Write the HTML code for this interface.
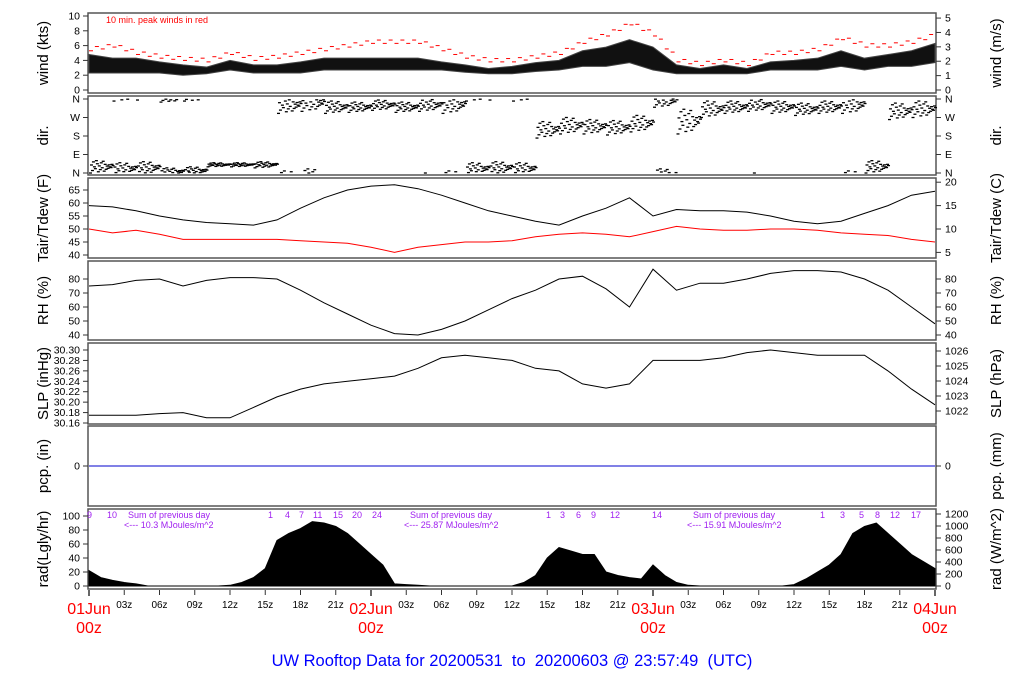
<!DOCTYPE html>
<html><head><meta charset="utf-8"><style>
body{margin:0;background:#fff;}
svg{display:block;font-family:"Liberation Sans",sans-serif;}
</style></head><body>
<svg id="c" width="1024" height="700" viewBox="0 0 1024 700"></svg>
<script>
// ---------- data (2-hourly, h = 0..72) ----------
const hours2 = [0,2,4,6,8,10,12,14,16,18,20,22,24,26,28,30,32,34,36,38,40,42,44,46,48,50,52,54,56,58,60,62,64,66,68,70,72];
const windLo = [2.3,2.3,2.3,2.3,2,2.2,2.7,2.3,2.3,2.3,2.7,2.7,2.7,2.7,2.7,2.7,2.4,2.2,2.2,2.5,2.7,3.2,3.2,3.7,2.7,2.2,2.2,2.2,2.2,2.7,2.7,2.7,3.2,2.7,3.2,3.2,3.7];
const windHi = [4.8,4.3,4.3,3.8,3.4,3.1,4,3.4,3.4,3.8,4.3,4.3,4.3,4.3,4.3,3.8,3.4,2.9,3.2,3.7,4,5.3,5.8,6.8,5.8,3.4,2.9,3.4,2.9,3.8,4,4.3,5.3,4.3,4.8,5.3,6.3];
const windPeak = [5.5,6,5,4.5,4.2,4,5,4.2,4.5,5,5.5,6,6.5,6.5,6.5,5.5,4.5,4,4,4.5,5,6.5,7.5,9,7.5,4,3.5,4,3.5,5,5,5.5,7,6,6,6.5,7.5];
const dirDeg = [30,20,25,5,10,40,40,40,330,340,320,320,330,320,330,330,20,25,20,210,230,225,220,240,350,250,310,320,330,320,310,320,330,30,300,310,300];
const dirSpread = [30,30,30,20,20,10,10,15,40,40,30,25,25,25,30,40,30,30,30,40,40,35,35,40,30,60,40,30,30,30,30,30,40,30,40,40,40];
const tair = [59,58.5,57,55,53.5,52.5,52,51.5,53.5,58,62,65,66.5,67,65.5,63,60,57,55,53,51.5,55,58,62,55,57.5,57,57,56.5,55,53,52,53,56,59,63,64.5];
const tdew = [50,48.5,49.5,48,46,46,46,46,46,45.5,45,44.5,43,41,43,44,45,45,45.5,47,48,48.5,48,47,49,51,50,49.5,49.5,50,50,49.5,48.5,48,47.5,46,45];
const rh = [75,76,79,80,75,79,81,81,80,72,63,55,47,41,40,44,50,58,66,72,80,82,73,60,87,72,77,77,80,84,86,86,85,80,72,60,48];
const slp = [30.175,30.175,30.175,30.178,30.18,30.17,30.17,30.19,30.21,30.225,30.235,30.24,30.245,30.25,30.265,30.285,30.29,30.285,30.28,30.265,30.26,30.235,30.227,30.235,30.28,30.28,30.28,30.285,30.295,30.30,30.295,30.29,30.29,30.29,30.26,30.225,30.195];
const pcp = [0,0,0,0,0,0,0,0,0,0,0,0,0,0,0,0,0,0,0,0,0,0,0,0,0,0,0,0,0,0,0,0,0,0,0,0,0];
// hourly radiation h = 0..72 (Lgly/hr)
const rad = [22,12,8,5,3,0,0,0,0,0,0,0,1,5,12,25,65,75,82,92,90,85,75,60,45,30,3,2,1,0,0,0,0,0,0,0,0,5,15,40,55,50,45,45,20,15,12,10,30,15,5,1,0,0,0,0,0,0,0,0,2,10,20,30,45,75,85,90,75,60,45,35,25];
const hourTicks = ["03z","06z","09z","12z","15z","18z","21z"];
const dayLabels = ["01Jun","02Jun","03Jun","04Jun"];

// ---------- drawing ----------
const svg=document.getElementById('c');
const NS='http://www.w3.org/2000/svg';
const X0=89,X1=935,HMAX=72;
const xs=h=>X0+(X1-X0)*h/HMAX;
function mk(t,a,p){const e=document.createElementNS(NS,t);for(const k in a)e.setAttribute(k,a[k]);(p||svg).appendChild(e);return e;}
function txt(s,x,y,a,p){const e=mk('text',Object.assign({x:x,y:y},a),p);e.textContent=s;return e;}
function lin(v0,y0,v1,y1){return v=>y0+(v-v0)*(y1-y0)/(v1-v0);}

const panels=[
 {n:'wind',top:13,bot:93,l:'wind (kts)',r:'wind (m/s)'},
 {n:'dir',top:96,bot:175,l:'dir.',r:'dir.'},
 {n:'temp',top:178,bot:258,l:'Tair/Tdew (F)',r:'Tair/Tdew (C)'},
 {n:'rh',top:261,bot:340,l:'RH (%)',r:'RH (%)'},
 {n:'slp',top:343,bot:424,l:'SLP (inHg)',r:'SLP (hPa)'},
 {n:'pcp',top:426,bot:506,l:'pcp. (in)',r:'pcp. (mm)'},
 {n:'rad',top:509,bot:589,l:'rad(Lgly/hr)',r:'rad (W/m^2)'}
];
panels.forEach(p=>{
 const g=mk('g',{});
 
 
 const r=mk('rect',{x:X0-1,y:p.top,width:X1-X0+2,height:p.bot-p.top,fill:'none',stroke:'#555','stroke-width':1.5},g);
 
 const cy=(p.top+p.bot)/2;
 const lt=txt(p.l,0,0,{'font-size':15,'text-anchor':'middle',transform:`translate(48,${cy}) rotate(-90)`},g);
 
 const rt=txt(p.r,0,0,{'font-size':15,'text-anchor':'middle',transform:`translate(1001,${cy}) rotate(-90)`},g);
 
 p.g=g;
});
function yTicks(p,vals,labels,fy,side){
 vals.forEach((v,i)=>{const y=fy(v);
  if(side==='L'){mk('line',{x1:X0-6,x2:X0-1,y1:y,y2:y,stroke:'#333'},p.g);
   const t=txt(labels[i],X0-9,y+3.5,{'font-size':10.5,'text-anchor':'end'},p.g);
   }
  else{mk('line',{x1:X1+1,x2:X1+6,y1:y,y2:y,stroke:'#333'},p.g);
   const t=txt(labels[i],X1+10,y+3.5,{'font-size':10.5},p.g);
   }
 });
}
function poly(pts,attrs,p,name){const e=mk('polyline',Object.assign({points:pts.map(q=>q[0].toFixed(1)+','+q[1].toFixed(1)).join(' '),fill:'none'},attrs),p.g);
 return e;}

// wind
{const p=panels[0];const fy=lin(0,90,10,16);
 yTicks(p,[0,2,4,6,8,10],['0','2','4','6','8','10'],fy,'L');
 const fm=v=>fy(v*1.94384);yTicks(p,[0,1,2,3,4,5],['0','1','2','3','4','5'],fm,'R');
 const band=hours2.map((h,i)=>[xs(h),fy(windHi[i])]).concat(hours2.map((h,i)=>[xs(h),fy(windLo[i])]).reverse());
 const pg=mk('polygon',{points:band.map(q=>q.join(',')).join(' '),fill:'#111',stroke:'#444','stroke-width':1},p.g);
 
 hours2.forEach((h,i)=>{if(i===hours2.length-1)return;
  for(let k=0;k<4;k++){const f=k/4;const v=windPeak[i]*(1-f)+windPeak[i+1]*f+((k%2)?0.25:-0.2);
   const x=xs(h+2*f);const d=mk('line',{x1:x,x2:x+4,y1:fy(v),y2:fy(v),stroke:'#f00','stroke-width':1},p.g);
   }});
 const t=txt('10 min. peak winds in red',106,23,{'font-size':9,fill:'#f00'},p.g);
 }
// dir
{const p=panels[1];const fy=lin(0,173,360,99);
 yTicks(p,[0,90,180,270,360],['N','E','S','W','N'],fy,'L');yTicks(p,[0,90,180,270,360],['N','E','S','W','N'],fy,'R');
 const offs=[-1,0.3,-0.6,0.8,0,-0.3,1,0.5,-0.8,0.15,-0.45,0.65,-0.15,0.9,-0.7,0.4];
 hours2.forEach((h,i)=>{if(i===hours2.length-1)return;
  for(let k=0;k<24;k++){let d=dirDeg[i]+dirSpread[i]*offs[k%16]*(k<16?1:0.4);d=((d%360)+360)%360;
   const x=xs(h+2*k/24);const y=fy(d);
   const m=mk('line',{x1:x,x2:x+3,y1:y,y2:y,stroke:'#000','stroke-width':1.3},p.g);
   }});}
// temp
{const p=panels[2];const fy=lin(40,255,65,190);
 yTicks(p,[40,45,50,55,60,65],['40','45','50','55','60','65'],fy,'L');
 const fc=c=>fy(c*9/5+32);yTicks(p,[5,10,15,20],['5','10','15','20'],fc,'R');
 poly(hours2.map((h,i)=>[xs(h),fy(tair[i])]),{stroke:'#000','stroke-width':1},p,'tair-line');
 poly(hours2.map((h,i)=>[xs(h),fy(tdew[i])]),{stroke:'#f00','stroke-width':1},p,'tdew-line');}
// rh
{const p=panels[3];const fy=lin(40,335,80,279);
 const v=[40,50,60,70,80],l=v.map(String);yTicks(p,v,l,fy,'L');yTicks(p,v,l,fy,'R');
 poly(hours2.map((h,i)=>[xs(h),fy(rh[i])]),{stroke:'#000','stroke-width':1},p,'rh-line');}
// slp
{const p=panels[4];const fy=lin(30.16,423,30.30,350);
 const v=[30.16,30.18,30.20,30.22,30.24,30.26,30.28,30.30];yTicks(p,v,v.map(a=>a.toFixed(2)),fy,'L');
 const fh=lin(1022,411,1026,351);const hv=[1022,1023,1024,1025,1026];yTicks(p,hv,hv.map(String),fh,'R');
 poly(hours2.map((h,i)=>[xs(h),fy(slp[i])]),{stroke:'#000','stroke-width':1},p,'slp-line');}
// pcp
{const p=panels[5];const fy=v=>466-v*100;
 yTicks(p,[0],['0'],fy,'L');yTicks(p,[0],['0'],fy,'R');
 poly(hours2.map((h,i)=>[xs(h),fy(pcp[i])]),{stroke:'#00c','stroke-width':1},p,'pcp-line');}
// rad
{const p=panels[6];const fy=lin(0,586,100,516);
 const v=[0,20,40,60,80,100];yTicks(p,v,v.map(String),fy,'L');
 const fw=lin(0,586,1200,514);const wv=[0,200,400,600,800,1000,1200];yTicks(p,wv,wv.map(String),fw,'R');
 const pts=[[xs(0),fy(0)]].concat(rad.map((r,h)=>[xs(h),fy(r)])).concat([[xs(72),fy(0)]]);
 const pg=mk('polygon',{points:pts.map(q=>q[0].toFixed(1)+','+q[1].toFixed(1)).join(' '),fill:'#000',stroke:'#000','stroke-width':1},p.g);
 
 const notes=[['9',87],['10',107],['Sum of previous day',128],['1',268],['4',285],['7',299],['11',313],['15',333],['20',352],['24',372],
  ['Sum of previous day',410],['1',546],['3',560],['6',576],['9',591],['12',610],['14',652],['Sum of previous day',693],['1',820],['3',840],['5',859],['8',875],['12',890],['17',911]];
 notes.forEach(n=>{const t=txt(n[0],n[1],518,{'font-size':9,fill:'#a020f0'},p.g);});
 [['<--- 10.3 MJoules/m^2',124],['<--- 25.87 MJoules/m^2',404],['<--- 15.91 MJoules/m^2',687]].forEach(n=>{
  const t=txt(n[0],n[1],528,{'font-size':9,fill:'#a020f0'},p.g);});}
// x axis
{const g=mk('g',{});
 for(let d=0;d<3;d++)hourTicks.forEach((s,i)=>{const x=xs(d*24+(i+1)*3);
  mk('line',{x1:x,x2:x,y1:590,y2:595,stroke:'#333'},g);
  const t=txt(s,x,608,{'font-size':10,'text-anchor':'middle'},g);});
 dayLabels.forEach((s,i)=>{const x=xs(i*24);mk('line',{x1:x,x2:x,y1:590,y2:596,stroke:'#333','stroke-width':1.5},g);
  const t=txt(s,x,614,{'font-size':16,'text-anchor':'middle',fill:'#f00'},g);
  const t2=txt('00z',x,633,{'font-size':16,'text-anchor':'middle',fill:'#f00'},g);});}
const title=txt('UW Rooftop Data for 20200531\u00a0 to \u00a020200603 @ 23:57:49\u00a0 (UTC)',512,666,{'font-size':16.5,'text-anchor':'middle',fill:'#00f'});

</script>
</body></html>
